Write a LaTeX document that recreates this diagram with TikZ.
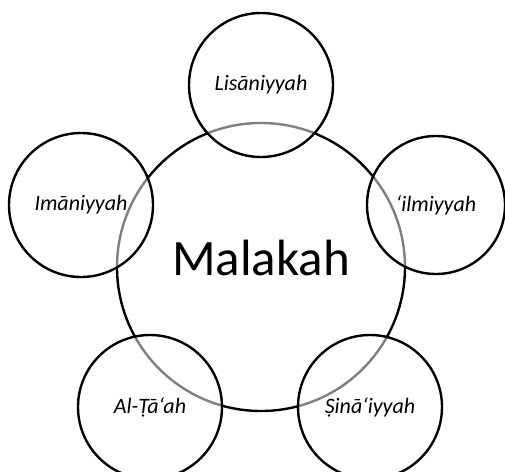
\documentclass[tikz,border=0pt]{standalone}
\usepackage{fontspec}
\setmainfont{Carlito}
\begin{document}
\begin{tikzpicture}[x=1pt,y=-1pt,
  bigc/.style={circle,draw=black,line width=2.4pt,minimum size=288pt,inner sep=0pt},
  bigtext/.style={inner sep=0pt,font=\fontsize{51}{60}\selectfont},
  smallc/.style={circle,draw=black,line width=2.4pt,minimum size=144pt,inner sep=0pt,
    fill=white,fill opacity=0.5,draw opacity=1,text opacity=1,font=\fontsize{22}{26}\selectfont\itshape}]
\useasboundingbox (0,0) rectangle (505,471);
\node[bigc] (mal) at (261,267) {};
\node[bigtext] (malt) at (261,258) {Malakah};
\node[smallc] (lis) at (261,85) {Lisāniyyah};
\node[smallc] (ima) at (81,205) {Imāniyyah};
\node[smallc,minimum size=138pt] (ilm) at (436,205) {‘ilmiyyah};
\node[smallc] (taa) at (150,407) {Al-Ṭā‘ah};
\node[smallc] (sin) at (370,407) {Ṣinā‘iyyah};
\end{tikzpicture}
\end{document}
